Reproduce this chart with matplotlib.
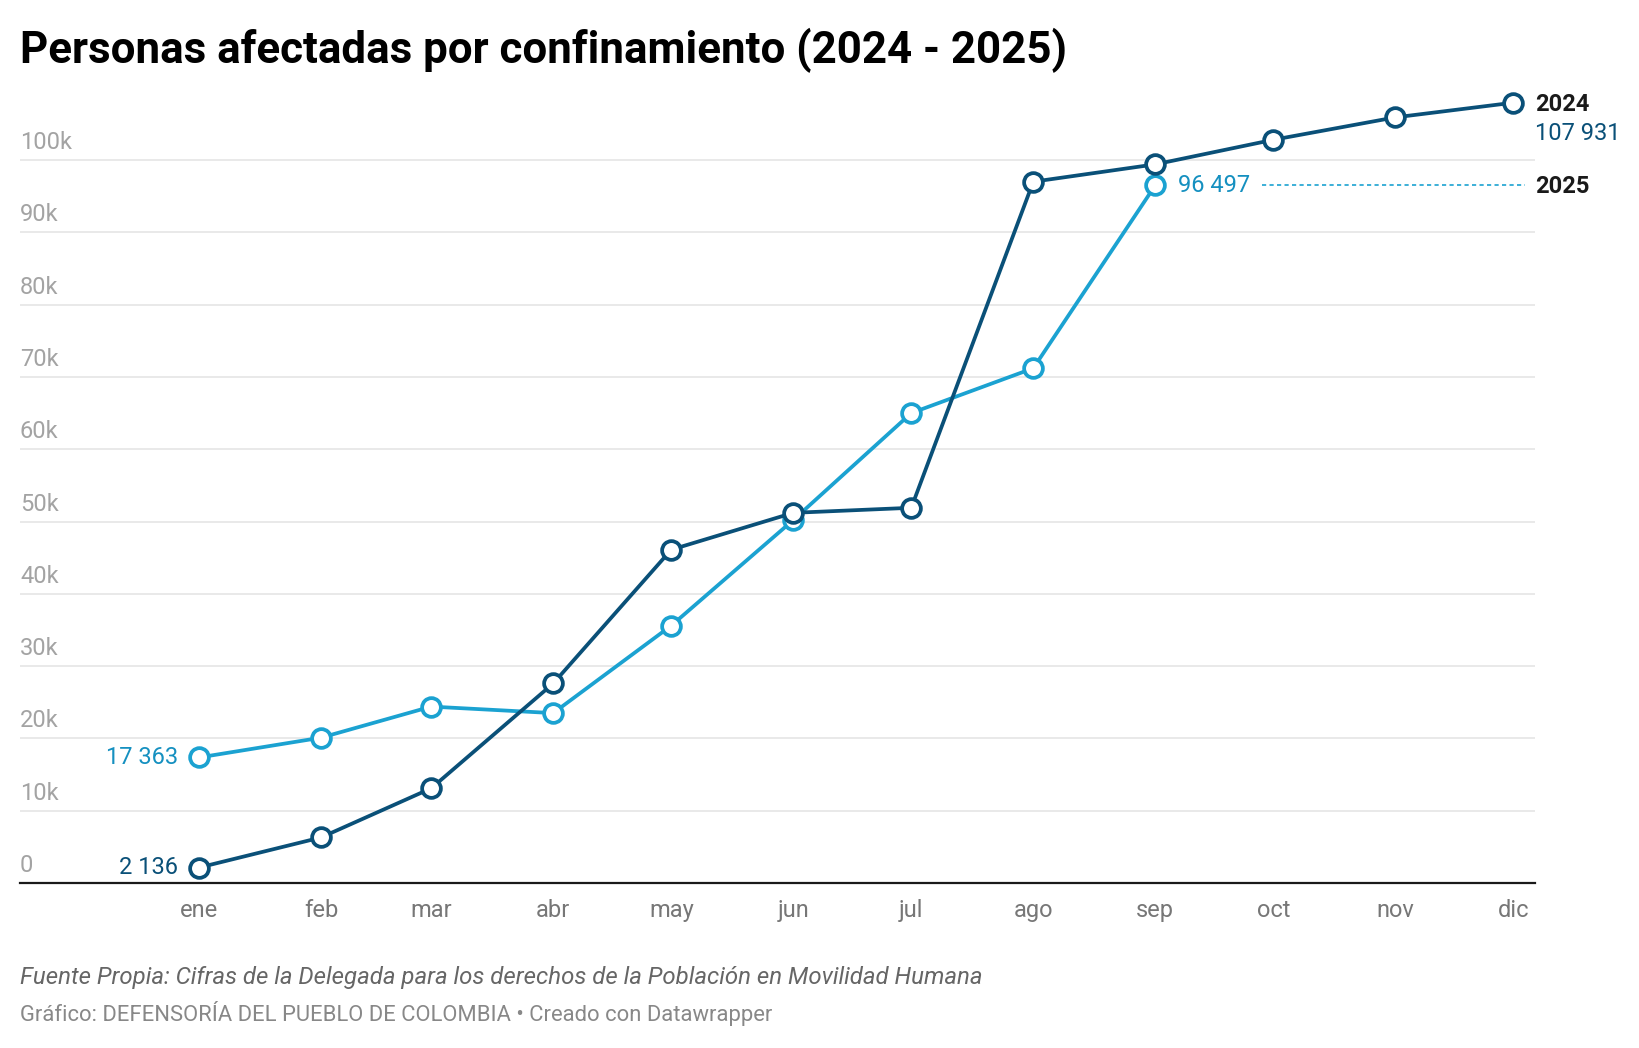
from datetime import datetime
import matplotlib
matplotlib.use("Agg")
from matplotlib import pyplot as plt
import matplotlib.dates as mdates
import matplotlib.transforms as mtransforms

## Data -------------------------------------------------------------------
months = ["ene", "feb", "mar", "abr", "may", "jun", "jul", "ago", "sep", "oct", "nov", "dic"]
v2024 = [2136, 6300, 13100, 27600, 46100, 51200, 51900, 97000, 99400, 102800, 105900, 107931]
v2025 = [17363, 20100, 24400, 23500, 35600, 50200, 65000, 71200, 96497]
yticks = [0, 10000, 20000, 30000, 40000, 50000, 60000, 70000, 80000, 90000, 100000]
ytick_labels = ["0", "10k", "20k", "30k", "40k", "50k", "60k", "70k", "80k", "90k", "100k"]

title = "Personas afectadas por confinamiento (2024 - 2025)"
source = "Fuente Propia: Cifras de la Delegada para los derechos de la Población en Movilidad Humana"
credit = "Gráfico: DEFENSORÍA DEL PUEBLO DE COLOMBIA • Creado con Datawrapper"

## Style ------------------------------------------------------------------
c24 = "#0a5078"
c25 = "#1ba2d1"
c25_txt = "#1590c0"
fsize = 17
lw = 2.7
msize = 13.5
mew = 2.7
plt.rcParams["font.family"] = ["Roboto", "DejaVu Sans"]

dates = [datetime(2025, m, 1) for m in range(1, 13)]
x = mdates.date2num(dates)

fig = plt.figure(figsize=(16.4, 10.48), dpi=100)
ax = fig.add_axes([20 / 1640, 0.15744, (1535 - 20) / 1640, 0.9163 - 0.15744])

ax.plot(x[: len(v2025)], v2025, color=c25, lw=lw, marker="o", markersize=msize,
        markerfacecolor="white", markeredgewidth=mew, markeredgecolor=c25,
        zorder=3, clip_on=False)
ax.plot(x, v2024, color=c24, lw=lw, marker="o", markersize=msize,
        markerfacecolor="white", markeredgewidth=mew, markeredgecolor=c24,
        zorder=4, clip_on=False)

ax.set_xlim(x[0] - 45.5, x[0] + 339.5)
ax.set_ylim(0, 110000)

for s in ["top", "right", "left"]:
    ax.spines[s].set_visible(False)
ax.spines["bottom"].set_color("#1a1a1a")
ax.spines["bottom"].set_linewidth(1.6)
ax.spines["bottom"].set_zorder(5)

# gridlines + y labels above lines (datawrapper style)
ax.set_yticks([])
up = mtransforms.offset_copy(ax.get_yaxis_transform(), fig=fig, x=0, y=11, units="dots")
for v, lab in zip(yticks, ytick_labels):
    if v > 0:
        ax.axhline(v, color="#e3e3e3", lw=1.1, zorder=1)
    ax.text(0, v, lab, transform=up, ha="left", va="baseline",
            fontsize=fsize, color="#a3a3a3")

ax.set_xticks(x)
ax.set_xticklabels(months)
ax.tick_params(axis="x", length=0, pad=11.5, labelsize=fsize, labelcolor="#777777")

# end labels
def offs(dx, dy):
    return mtransforms.offset_copy(ax.transData, fig=fig, x=dx, y=dy, units="dots")

ax.text(x[-1], v2024[-1], "2024", transform=offs(22, -2), ha="left", va="center",
        fontsize=fsize, fontweight="bold", color="#1a1a1a")
ax.text(x[-1], v2024[-1], "107 931", transform=offs(22, -31), ha="left", va="center",
        fontsize=fsize, color=c24)
xs = x[len(v2025) - 1]
ax.text(xs, v2025[-1], "96 497", transform=offs(23, 0), ha="left", va="center",
        fontsize=fsize, color=c25_txt)
ax.plot([xs + 27, x[-1] + 3], [v2025[-1], v2025[-1]], color=c25, lw=1.2,
        ls=(0, (2.5, 2)), zorder=2, clip_on=False)
ax.text(x[-1], v2025[-1], "2025", transform=offs(22, -1), ha="left", va="center",
        fontsize=fsize, fontweight="bold", color="#1a1a1a")

ax.text(x[0], v2025[0], "17 363", transform=offs(-21, 0), ha="right", va="center",
        fontsize=fsize, color=c25_txt)
ax.text(x[0], v2024[0], "2 136", transform=offs(-21, 0), ha="right", va="center",
        fontsize=fsize, color=c24)

fig.text(20 / 1640, 1 - 63 / 1048, title, fontsize=31.6, fontweight="bold",
         color="#000000", ha="left", va="baseline")
fig.text(20 / 1640, 1 - 984 / 1048, source, fontsize=17.3, style="italic",
         color="#666666", ha="left", va="baseline")
fig.text(20 / 1640, 1 - 1021 / 1048, credit, fontsize=15.8,
         color="#888888", ha="left", va="baseline")

fig.savefig("out.png", dpi=100, facecolor="white")
